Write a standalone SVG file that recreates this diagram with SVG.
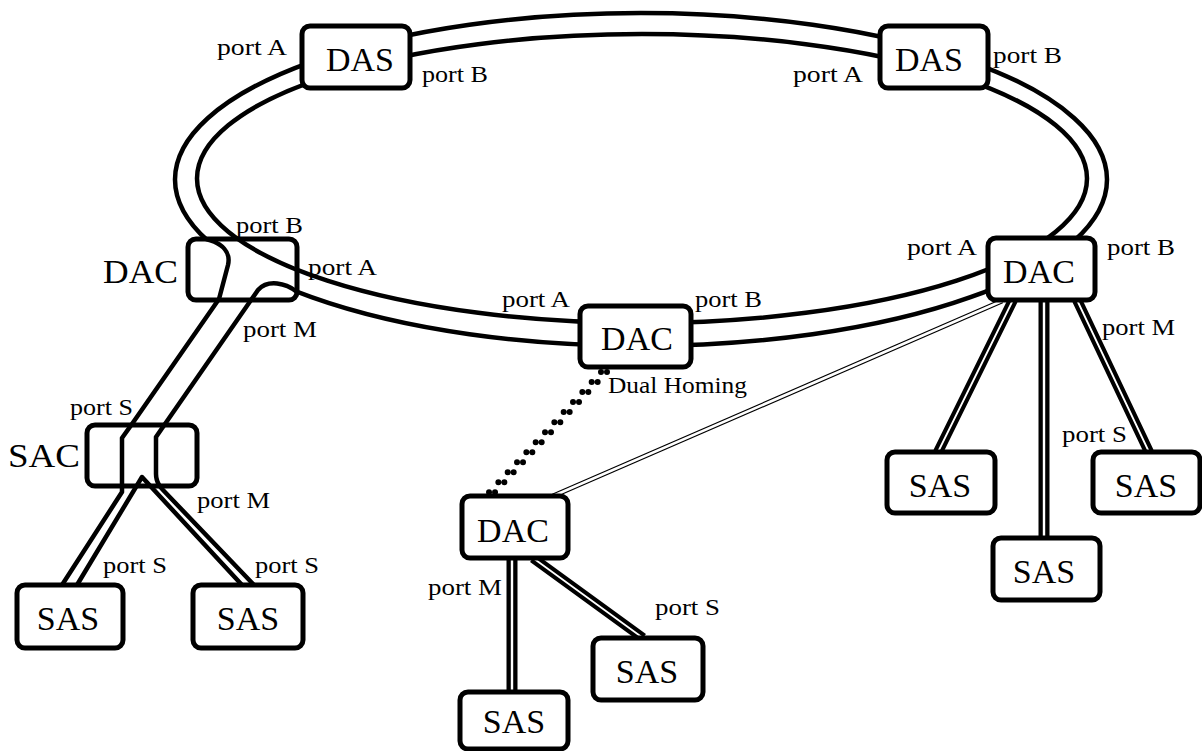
<svg xmlns="http://www.w3.org/2000/svg" xmlns:xlink="http://www.w3.org/1999/xlink" width="1202" height="751" viewBox="0 0 1202 751">
<style>
.box{fill:#fff;stroke:#000;stroke-width:5}
.ring{fill:none;stroke:#000;stroke-width:4.5}
.wire{fill:none;stroke:#000;stroke-width:4.5;stroke-linejoin:round}
.dblb{fill:none;stroke:#000;stroke-width:10}
.dblw{fill:none;stroke:#fff;stroke-width:1.8}
.thinb{fill:none;stroke:#000;stroke-width:5}
.thinw{fill:none;stroke:#fff;stroke-width:2.6}
.dots{fill:none;stroke:#000;stroke-width:6;stroke-linecap:round;stroke-dasharray:0 13.7}
.nl{font-family:"Liberation Serif","Times New Roman",serif;font-size:34px;fill:#000}
.pl{font-family:"Liberation Serif","Times New Roman",serif;font-size:23px;fill:#000}
</style>
<defs>
<ellipse id="ringOuter" cx="641" cy="179.5" rx="466" ry="166.5"/>
<ellipse id="ringInner" cx="642" cy="178.5" rx="445" ry="144.5"/>
<path id="lineA" d="M 206 239 C 222 243 231 252 228 265 L 219 299 L 132 424 L 122 438 L 122 492 L 62 585"/>
<path id="lineB" d="M 297 292 C 286 283 268 279 258 290 L 165 424 L 156 437 L 156 474 Q 156 483 163 490 L 254 585"/>
<path id="lineC" d="M 77 585 L 142 477 L 242 585"/>
<clipPath id="clipLDAC"><rect x="188" y="239" width="109" height="61"/></clipPath>
<clipPath id="clipSAC"><rect x="87" y="425" width="110" height="61"/></clipPath>
</defs>
<rect width="1202" height="751" fill="#fff"/>
<g id="connectors">
<use href="#ringOuter" class="ring"/>
<use href="#ringInner" class="ring"/>
<use href="#lineA" class="wire"/>
<use href="#lineB" class="wire"/>
<use href="#lineC" class="wire"/>
<path class="dblb" d="M 1013 300 L 938 452 M 1077 300 L 1149 452 M 533 558 L 643 638"/>
<path class="dblw" d="M 1013 300 L 938 452 M 1077 300 L 1149 452 M 533 558 L 643 638"/>
<path class="dblb" style="stroke-width:11" d="M 1044 300 L 1044 538 M 512 558 L 512 692"/>
<path class="dblw" style="stroke-width:2.4" d="M 1044 300 L 1044 538 M 512 558 L 512 692"/>
<path class="thinb" d="M 1002 301 L 553 496"/>
<path class="thinw" d="M 1002 301 L 553 496"/>
<path class="dots" d="M 601 372 L 487.5 494 M 607 372 L 493.5 494"/>
</g>
<g id="das-left">
<rect class="box" x="302" y="26" width="108" height="62" rx="8"/>
<text class="nl" x="360" y="71" text-anchor="middle">DAS</text>
<text class="pl" x="217" y="55" textLength="70" lengthAdjust="spacingAndGlyphs">port A</text>
<text class="pl" x="422" y="82" textLength="66" lengthAdjust="spacingAndGlyphs">port B</text>
</g>
<g id="das-right">
<rect class="box" x="880" y="26" width="108" height="62" rx="8"/>
<text class="nl" x="929" y="71" text-anchor="middle">DAS</text>
<text class="pl" x="793" y="82" textLength="70" lengthAdjust="spacingAndGlyphs">port A</text>
<text class="pl" x="993" y="63" textLength="69" lengthAdjust="spacingAndGlyphs">port B</text>
</g>
<g id="dac-left">
<rect class="box" x="188" y="239" width="109" height="61" rx="8"/>
<use href="#ringInner" class="ring" clip-path="url(#clipLDAC)"/>
<use href="#lineA" class="wire" clip-path="url(#clipLDAC)"/>
<use href="#lineB" class="wire" clip-path="url(#clipLDAC)"/>
<text class="nl" x="103" y="283" textLength="75" lengthAdjust="spacingAndGlyphs">DAC</text>
<text class="pl" x="236" y="233" textLength="67" lengthAdjust="spacingAndGlyphs">port B</text>
<text class="pl" x="308" y="275" textLength="69" lengthAdjust="spacingAndGlyphs">port A</text>
<text class="pl" x="243" y="337" textLength="74" lengthAdjust="spacingAndGlyphs">port M</text>
</g>
<g id="sac">
<rect class="box" x="87" y="425" width="110" height="61" rx="8"/>
<use href="#lineA" class="wire" clip-path="url(#clipSAC)"/>
<use href="#lineB" class="wire" clip-path="url(#clipSAC)"/>
<use href="#lineC" class="wire" clip-path="url(#clipSAC)"/>
<text class="nl" x="8" y="467" textLength="72" lengthAdjust="spacingAndGlyphs">SAC</text>
<text class="pl" x="70" y="415" textLength="63" lengthAdjust="spacingAndGlyphs">port S</text>
<text class="pl" x="197" y="508" textLength="73" lengthAdjust="spacingAndGlyphs">port M</text>
</g>
<g id="sas-1">
<rect class="box" x="17" y="585" width="106" height="63" rx="8"/>
<text class="nl" x="68" y="630" text-anchor="middle">SAS</text>
<text class="pl" x="103" y="573" textLength="64" lengthAdjust="spacingAndGlyphs">port S</text>
</g>
<g id="sas-2">
<rect class="box" x="193" y="585" width="110" height="63" rx="8"/>
<text class="nl" x="248" y="630" text-anchor="middle">SAS</text>
<text class="pl" x="255" y="573" textLength="64" lengthAdjust="spacingAndGlyphs">port S</text>
</g>
<g id="dac-center">
<rect class="box" x="580" y="306" width="111" height="61" rx="8"/>
<text class="nl" x="637" y="350" text-anchor="middle">DAC</text>
<text class="pl" x="502" y="307" textLength="68" lengthAdjust="spacingAndGlyphs">port A</text>
<text class="pl" x="695" y="307" textLength="67" lengthAdjust="spacingAndGlyphs">port B</text>
<text class="pl" x="608" y="393" textLength="139" lengthAdjust="spacingAndGlyphs">Dual Homing</text>
</g>
<g id="dac-right">
<rect class="box" x="988" y="238" width="107" height="62" rx="8"/>
<text class="nl" x="1039" y="283" text-anchor="middle">DAC</text>
<text class="pl" x="907" y="255" textLength="70" lengthAdjust="spacingAndGlyphs">port A</text>
<text class="pl" x="1107" y="255" textLength="68" lengthAdjust="spacingAndGlyphs">port B</text>
<text class="pl" x="1102" y="335" textLength="73" lengthAdjust="spacingAndGlyphs">port M</text>
<text class="pl" x="1062" y="442" textLength="65" lengthAdjust="spacingAndGlyphs">port S</text>
</g>
<g id="sas-3">
<rect class="box" x="887" y="452" width="108" height="61" rx="8"/>
<text class="nl" x="940" y="497" text-anchor="middle">SAS</text>
</g>
<g id="sas-4">
<rect class="box" x="993" y="538" width="107" height="62" rx="8"/>
<text class="nl" x="1044" y="583" text-anchor="middle">SAS</text>
</g>
<g id="sas-5">
<rect class="box" x="1093" y="452" width="107" height="61" rx="8"/>
<text class="nl" x="1146" y="497" text-anchor="middle">SAS</text>
</g>
<g id="dac-bottom">
<rect class="box" x="462" y="496" width="106" height="62" rx="8"/>
<text class="nl" x="513" y="542" text-anchor="middle">DAC</text>
<text class="pl" x="428" y="595" textLength="74" lengthAdjust="spacingAndGlyphs">port M</text>
<text class="pl" x="655" y="615" textLength="65" lengthAdjust="spacingAndGlyphs">port S</text>
</g>
<g id="sas-6">
<rect class="box" x="460" y="692" width="108" height="57" rx="8"/>
<text class="nl" x="514" y="733" text-anchor="middle">SAS</text>
</g>
<g id="sas-7">
<rect class="box" x="593" y="638" width="110" height="62" rx="8"/>
<text class="nl" x="647" y="683" text-anchor="middle">SAS</text>
</g>
</svg>
